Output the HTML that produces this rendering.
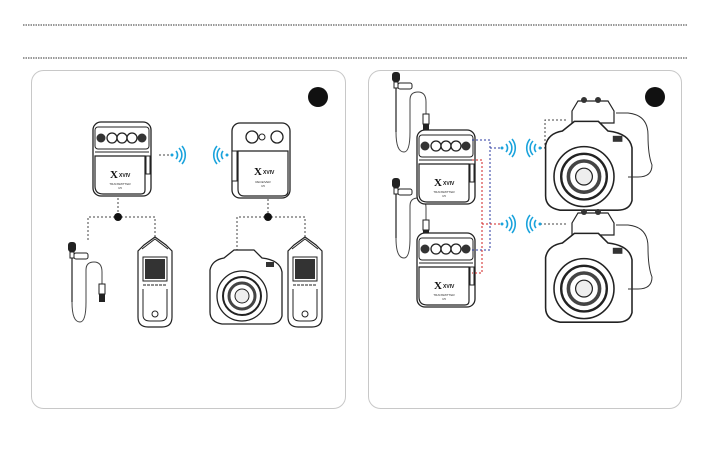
<!DOCTYPE html>
<html><head><meta charset="utf-8"><style>
html,body{margin:0;padding:0;background:#fff;}
body{width:709px;height:454px;overflow:hidden;font-family:"Liberation Sans",sans-serif;}
</style></head><body>
<svg width="709" height="454" viewBox="0 0 709 454" xmlns="http://www.w3.org/2000/svg">
<defs>
<g id="tx">
 <rect x="0" y="0" width="58" height="74" rx="8" fill="#fff" stroke="#222" stroke-width="1.3"/>
 <rect x="2" y="5" width="54" height="22" rx="3" fill="#fff" stroke="#222" stroke-width="1"/>
 <circle cx="8" cy="16" r="4.5" fill="#333"/>
 <circle cx="19" cy="16" r="5" fill="#fff" stroke="#222" stroke-width="1.3"/>
 <circle cx="29" cy="16" r="5" fill="#fff" stroke="#222" stroke-width="1.3"/>
 <circle cx="39" cy="16" r="5" fill="#fff" stroke="#222" stroke-width="1.3"/>
 <circle cx="49" cy="16" r="4.5" fill="#333"/>
 <line x1="2" y1="30" x2="56" y2="30" stroke="#222" stroke-width="1"/>
 <path d="M2 34 H52 V68 Q52 72 48 72 H10 Q2 72 2 64 Z" fill="#fff" stroke="#222" stroke-width="1.2"/>
 <rect x="53" y="34" width="4" height="18" fill="#fff" stroke="#222" stroke-width="1"/>
 <text x="17" y="56" font-size="11" font-weight="bold" font-family="Liberation Serif,serif" fill="#111">X</text>
 <text x="26" y="55" font-size="5" font-weight="bold" fill="#111">XVIV</text>
 <text x="27" y="63" font-size="3" text-anchor="middle" fill="#333">TRANSMITTER</text>
 <text x="27" y="67" font-size="3" text-anchor="middle" fill="#333">U5</text>
</g>
<g id="wifiR" fill="none" stroke="#1aa3dc" stroke-width="1.6">
 <circle cx="0" cy="0" r="1.5" fill="#1aa3dc" stroke="none"/>
 <path d="M4 -4 A6 6 0 0 1 4 4"/><path d="M7 -7 A10 10 0 0 1 7 7"/><path d="M10 -9 A14 14 0 0 1 10 9"/>
</g>
<g id="wifiL" fill="none" stroke="#1aa3dc" stroke-width="1.6">
 <circle cx="0" cy="0" r="1.5" fill="#1aa3dc" stroke="none"/>
 <path d="M-4 -4 A6 6 0 0 0 -4 4"/><path d="M-7 -7 A10 10 0 0 0 -7 7"/><path d="M-10 -9 A14 14 0 0 0 -10 9"/>
</g>
<g id="rec">
 <path d="M6 8 L17 0 L28 8 L34 14 V80 Q34 90 24 90 H10 Q0 90 0 80 V14 Z" fill="#fff" stroke="#222" stroke-width="1.2"/>
 <path d="M4 12 L17 2 L30 12" fill="none" stroke="#222" stroke-width="1"/>
 <rect x="7" y="22" width="20" height="20" fill="#333"/>
 <rect x="5" y="20" width="24" height="24" fill="none" stroke="#222"/>
 <line x1="5" y1="48" x2="29" y2="48" stroke="#222" stroke-dasharray="3 1"/>
 <path d="M5 52 V78 Q5 84 12 84 H22 Q29 84 29 78 V52" fill="none" stroke="#222"/>
 <circle cx="17" cy="77" r="3" fill="#fff" stroke="#222"/>
</g>
<g id="cam">
 <path d="M0 20 Q2 10 14 8 L24 0 H44 L52 8 Q70 10 72 22 V66 Q70 74 60 74 H12 Q0 72 0 62 Z" fill="#fff" stroke="#222" stroke-width="1.3"/>
 <circle cx="32" cy="46" r="25" fill="#fff" stroke="#222" stroke-width="1.3"/>
 <circle cx="32" cy="46" r="19" fill="#fff" stroke="#222" stroke-width="2"/>
 <circle cx="32" cy="46" r="13" fill="#fff" stroke="#444" stroke-width="3"/>
 <circle cx="32" cy="46" r="7" fill="#eee" stroke="#222"/>
 <rect x="56" y="12" width="8" height="5" fill="#333"/>
</g>
<g id="mic">
 <rect x="-4" y="0" width="8" height="10" rx="3" fill="#222"/>
 <rect x="-2" y="10" width="4" height="6" fill="#fff" stroke="#222"/>
 <rect x="2" y="11" width="14" height="6" rx="2" fill="#fff" stroke="#222"/>
 <line x1="0" y1="16" x2="0" y2="60" stroke="#222" stroke-width="1.2"/>
 <path d="M0 60 Q0 80 8 80 Q14 80 14 60 V28 Q14 20 22 20 Q30 20 30 30 V42" fill="none" stroke="#444" stroke-width="1"/>
 <rect x="27" y="42" width="6" height="10" fill="#fff" stroke="#222"/>
 <rect x="27" y="52" width="6" height="8" fill="#222"/>
</g>
</defs>

<line x1="23" y1="25" x2="687" y2="25" stroke="#333" stroke-width="1" stroke-dasharray="1.5 1"/>
<line x1="23" y1="58" x2="687" y2="58" stroke="#333" stroke-width="1" stroke-dasharray="1.5 1"/>

<rect x="31.5" y="70.5" width="314" height="338" rx="12" fill="#fff" stroke="#c8c8c8" stroke-width="1"/>
<rect x="368.5" y="70.5" width="313" height="338" rx="12" fill="#fff" stroke="#c8c8c8" stroke-width="1"/>
<circle cx="318" cy="97" r="10" fill="#111"/>
<circle cx="655" cy="97" r="10" fill="#111"/>

<!-- left panel -->
<use href="#tx" x="93" y="122"/>
<line x1="159" y1="155" x2="170" y2="155" stroke="#444" stroke-dasharray="2 2"/>
<use href="#wifiR" x="172" y="155"/>
<g transform="translate(232,123)">
 <rect x="0" y="0" width="58" height="75" rx="8" fill="#fff" stroke="#222" stroke-width="1.3"/>
 <circle cx="20" cy="14" r="6" fill="#fff" stroke="#222" stroke-width="1.3"/>
 <circle cx="30" cy="14" r="3" fill="#fff" stroke="#222"/>
 <circle cx="45" cy="14" r="6" fill="#fff" stroke="#222" stroke-width="1.3"/>
 <path d="M6 28 H56 V68 Q56 73 50 73 H12 Q6 73 6 66 Z" fill="#fff" stroke="#222" stroke-width="1.2"/>
 <rect x="0" y="28" width="5" height="30" fill="#fff" stroke="#222"/>
 <text x="22" y="52" font-size="11" font-weight="bold" font-family="Liberation Serif,serif" fill="#111">X</text>
 <text x="31" y="51" font-size="5" font-weight="bold" fill="#111">XVIV</text>
 <text x="31" y="60" font-size="3" text-anchor="middle" fill="#333">RECEIVER</text>
 <text x="31" y="64" font-size="3" text-anchor="middle" fill="#333">U5</text>
</g>
<use href="#wifiL" x="227" y="155"/>

<g fill="none" stroke="#444" stroke-dasharray="2 2">
 <path d="M118 198 V217 M88 240 V217 H155 V240"/>
 <path d="M268 199 V217 M237 255 V217 H305 V240"/>
</g>
<circle cx="118" cy="217" r="4" fill="#111"/>
<circle cx="268" cy="217" r="4" fill="#111"/>
<use href="#mic" x="72" y="242"/>
<use href="#rec" x="138" y="237"/>
<use href="#cam" x="210" y="250"/>
<use href="#rec" x="288" y="237"/>

<!-- right panel -->
<use href="#mic" x="396" y="72"/>
<use href="#mic" x="396" y="178"/>
<use href="#tx" x="417" y="130"/>
<use href="#tx" x="417" y="233"/>
<g fill="none" stroke-dasharray="2 2" stroke-width="1">
 <path d="M472 140 H490 V250 H472" stroke="#2b3aa0"/>
 <path d="M490 148 H500" stroke="#2b3aa0"/>
 <path d="M472 160 H482 V273 H472" stroke="#d02020"/>
 <path d="M482 224 H500" stroke="#d02020"/>
 <path d="M540 148 H545 V120 H568" stroke="#444"/>
 <path d="M540 224 H568" stroke="#444"/>
</g>
<use href="#wifiR" x="502" y="148"/>
<use href="#wifiR" x="502" y="224"/>
<use href="#wifiL" x="540" y="148"/>
<use href="#wifiL" x="540" y="224"/>

<g transform="translate(548,95)">
 <path d="M24 16 L30 6 H60 L66 16 V28 H24 Z" fill="#fff" stroke="#222" stroke-width="1.2"/>
 <circle cx="36" cy="5" r="3" fill="#333"/><circle cx="50" cy="5" r="3" fill="#333"/>
 <use href="#cam" x="0" y="26" transform="scale(1.2) translate(-2,-4)"/>
 <path d="M68 18 H80 Q100 20 100 40 Q100 60 104 70 Q104 82 90 82 H80" fill="none" stroke="#333"/>
</g>
<g transform="translate(548,207)">
 <path d="M24 16 L30 6 H60 L66 16 V28 H24 Z" fill="#fff" stroke="#222" stroke-width="1.2"/>
 <circle cx="36" cy="5" r="3" fill="#333"/><circle cx="50" cy="5" r="3" fill="#333"/>
 <use href="#cam" x="0" y="26" transform="scale(1.2) translate(-2,-4)"/>
 <path d="M68 18 H80 Q100 20 100 40 Q100 60 104 70 Q104 82 90 82 H80" fill="none" stroke="#333"/>
</g>
</svg>
</body></html>
